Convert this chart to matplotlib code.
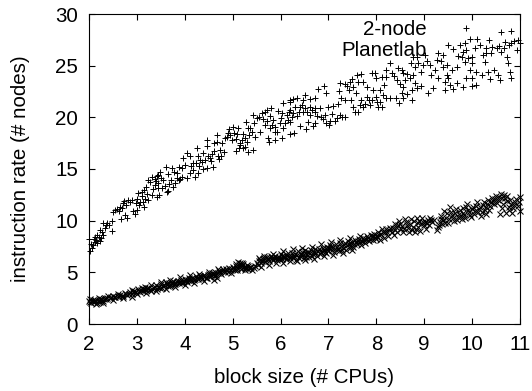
import numpy as np
import matplotlib
matplotlib.use("Agg")
import matplotlib.pyplot as plt

plt.rcParams['font.family'] = ['Liberation Sans', 'DejaVu Sans']

# (block size, instruction rate)
planetlab = np.array([
    (2.03,7.11),(2.06,7.33),(2.01,8.24),(2.09,7.66),(2.13,7.98),(2.16,7.82),(2.13,8.46),(2.17,8.63),
    (2.26,8.30),(2.30,8.63),(2.23,9.11),(2.33,9.27),(2.30,9.75),(2.37,9.75),(2.47,9.92),(2.49,9.04),
    (2.51,10.88),(2.54,11.04),(2.65,11.37),(2.68,11.21),(2.72,11.69),(2.82,12.01),(2.89,12.01),(2.67,10.14),
    (2.75,10.56),(2.79,10.24),(2.96,10.66),(2.995,11.04),(2.98,11.69),(3.07,11.85),(3.14,11.37),(3.12,11.85),
    (3.24,12.01),(3.03,12.66),(3.10,12.82),(3.20,13.30),(3.24,13.95),(3.31,14.27),(3.31,12.50),(3.41,12.27),
    (3.46,12.50),(3.38,13.46),(3.45,13.62),(3.52,13.14),(3.62,12.82),(3.66,12.91),(3.76,13.30),(3.80,13.62),
    (3.83,14.11),(3.87,13.95),(3.94,14.27),(4.04,14.17),(3.45,14.43),(3.48,14.75),(3.60,15.24),(3.73,15.08),
    (3.66,14.53),(3.83,14.59),(3.87,15.24),(3.94,15.08),(4.00,15.40),(3.97,16.04),(4.04,16.53),(4.11,16.21),
    (4.18,15.56),(4.18,14.91),(4.21,14.27),(4.28,14.66),(4.39,14.98),(4.46,15.08),(4.58,15.17),(4.25,17.01),
    (4.32,15.88),(4.28,16.21),(4.39,16.53),(4.49,16.21),(4.53,16.04),(4.46,17.82),(4.46,17.24),(4.60,17.50),
    (4.67,17.66),(4.68,18.30),(4.62,16.79),(4.74,16.85),(4.78,17.50),(4.81,16.69),(4.75,16.21),(4.72,15.95),
    (4.91,18.46),(4.94,18.30),(5.00,19.11),(5.12,18.95),(4.98,17.82),(5.08,17.88),(5.08,16.79),(5.15,17.33),
    (5.19,17.82),(5.26,17.17),(5.33,16.69),(5.43,16.85),(5.28,19.59),(5.31,18.95),(5.36,18.95),(5.26,17.98),
    (5.35,18.30),(5.47,18.14),(5.45,19.50),(5.43,20.24),(5.57,18.62),(5.54,20.08),(5.61,20.40),(5.68,20.56),
    (5.71,20.72),(5.81,20.88),(5.68,19.27),(5.77,18.95),(5.85,19.75),(5.88,19.11),(5.88,18.62),(5.74,17.98),
    (5.76,17.66),(5.88,17.82),(6.02,17.98),(6.06,21.43),(6.02,20.40),(6.13,20.24),(5.99,19.43),(6.06,18.95),
    (6.16,19.75),(6.20,21.53),(6.18,20.56),
    (6.20,21.68),(6.27,21.78),(6.34,21.84),(6.47,21.68),(6.51,22.17),(6.61,21.78),(6.72,21.84),(6.20,20.71),
    (6.30,21.04),(6.40,21.04),(6.51,20.88),(6.61,21.04),(6.72,20.88),(6.82,20.88),(6.23,20.07),(6.34,20.17),
    (6.47,20.55),(6.61,20.23),(6.72,20.55),(6.20,19.59),(6.40,19.17),(6.53,18.84),(6.58,19.59),(6.68,19.17),
    (6.72,19.42),(6.84,20.01),(6.93,20.23),(6.95,19.42),(7.04,19.68),(7.14,19.68),(7.07,20.33),(7.24,20.23),
    (7.34,20.07),(7.00,21.04),(7.10,21.10),(7.20,21.30),(6.20,18.39),(6.28,18.46),(6.79,22.75),(6.91,23.04),
    (6.95,22.33),(7.24,23.30),(7.23,22.59),(7.34,23.23),(7.45,23.46),(7.43,22.65),(7.52,22.97),(7.59,24.10),
    (7.69,24.20),(7.62,23.46),(7.73,23.46),(7.81,22.97),(7.90,24.26),(7.97,24.33),(8.00,23.78),(8.11,23.88),
    (7.27,21.84),(7.34,21.68),(7.48,21.68),(7.52,21.04),(7.55,20.55),(7.62,20.55),(7.69,21.68),(7.80,22.01),
    (7.87,21.20),(7.76,21.30),(7.90,21.68),(8.00,22.01),(8.04,21.04),(8.11,20.97),(8.07,22.65),(8.14,22.17),
    (8.21,21.84),(8.28,21.84),(8.20,24.59),(8.28,25.30),(8.21,23.88),(8.37,24.01),(8.44,23.62),(8.53,24.59),
    (8.46,24.75),(8.56,24.33),(8.60,23.62),(8.70,23.78),(8.56,22.97),(8.53,22.33),(8.42,21.84),(8.48,21.36),
    (8.56,21.84),(8.74,21.68),(8.63,22.26),(8.74,22.65),(8.84,22.81),(8.94,23.04),(9.08,22.39),(9.19,22.81),
    (8.77,24.10),(8.81,24.91),(8.72,25.23),(8.76,25.88),(8.84,25.81),(8.94,24.43),(8.98,25.07),(9.01,26.04),
    (9.12,25.07),(9.15,24.10),(9.29,23.78),(9.26,25.55),(9.29,26.20),(9.40,26.04),(9.47,25.07),(9.40,24.91),
    (9.47,24.10),(9.50,23.78),(9.54,23.13),(9.43,22.65),(9.61,22.71),(9.68,23.30),(9.50,27.01),(9.61,26.59),
    (9.75,27.01),(9.88,28.62),(9.85,27.17),(9.95,27.55),(10.11,27.55),(9.88,26.52),(9.78,25.88),(9.68,24.91),
    (9.85,25.39),(9.99,25.88),(9.99,25.23),(9.95,24.59),(10.08,24.43),(10.20,24.10),(10.34,24.43),(10.45,24.59),
    (10.37,23.68),(10.55,24.10),(10.58,23.62),(10.79,24.43),(10.82,23.78),(9.88,23.78),(9.99,23.78),(9.81,22.97),
    (9.99,23.04),(10.08,23.13),(10.16,27.01),(10.23,26.04),(10.36,27.49),(10.30,26.68),(10.41,26.78),(10.51,26.68),
    (10.61,28.30),(10.81,28.39),(10.61,26.36),(10.72,25.88),(10.75,25.23),(10.27,25.39),(10.30,26.20),(10.68,27.33),
    (10.82,27.23),(10.96,27.49),(10.94,26.52),(11.00,27.23),
])

# dodatkowe plusy w gestych skupiskach
planetlab_dense = np.array([
    (2.05,7.75),(2.10,8.20),(2.15,8.10),(2.20,8.45),(2.22,8.00),(2.28,8.90),(2.35,9.60),(2.42,9.55),
    (2.58,11.15),(2.62,10.90),(2.74,11.90),(2.77,11.50),(2.85,11.80),(2.92,10.90),(3.00,12.10),(3.05,11.55),
    (3.10,12.40),(3.15,13.00),(3.17,12.10),(3.22,12.55),(3.28,13.70),(3.34,13.10),(3.37,14.00),(3.40,13.80),
    (3.42,14.30),(3.44,13.20),(3.50,14.10),(3.55,13.90),(3.58,13.35),(3.68,13.55),(3.72,13.90),(3.78,14.70),
    (3.90,14.00),(4.10,14.60),(4.14,15.30),(4.24,15.60),(4.30,15.25),(4.36,15.70),(4.42,15.90),(4.55,15.80),
    (4.57,16.50),(4.70,16.30),(4.84,18.00),(4.88,18.10),(4.93,18.90),(5.03,18.50),(5.10,18.40),(5.14,17.05),
    (5.16,17.55),(5.21,17.05),(5.22,18.40),(5.30,17.60),(5.40,18.60),(5.50,19.90),(5.64,19.80),(5.72,19.60),
    (5.79,20.10),(5.83,19.30),(5.92,18.60),(5.95,20.60),(6.00,19.95),(6.10,19.50),(6.25,20.40),(6.38,20.50),
    (6.45,21.20),(6.55,20.50),(6.65,20.70),(6.76,20.10),(6.88,19.85),(7.02,19.30),(7.18,19.90),(7.28,20.00),
    (7.38,23.00),(7.50,23.70),(7.58,22.40),(7.66,21.20),(7.72,21.00),(7.84,21.70),(7.94,22.60),(8.02,21.50),
    (8.08,21.50),(8.16,23.10),(8.32,24.30),(8.50,23.20),(8.65,24.20),(8.80,23.30),(8.88,25.30),(9.05,25.50),
    (9.22,24.60),(9.35,25.50),(9.44,23.40),(9.58,24.60),(9.70,25.90),(9.80,26.30),(9.92,25.70),(10.05,26.70),
    (10.40,26.20),(10.56,26.90),(10.66,26.70),(10.78,27.00),(10.88,27.40),
])

two_node = np.array([
    (2.00,2.20),(2.02,2.40),(2.04,2.00),(2.07,2.25),(2.10,2.10),(2.13,2.35),(2.16,2.05),(2.20,2.30),
    (2.23,2.15),(2.26,2.45),(2.30,2.20),(2.33,2.55),(2.36,2.40),(2.40,2.70),(2.45,2.60),(2.50,2.75),
    (2.55,2.60),(2.60,2.70),(2.65,2.85),(2.70,2.75),(2.75,3.00),(2.80,2.80),(2.85,3.10),(2.90,2.90),
    (2.95,3.15),(3.00,2.95),(3.03,3.35),(3.06,3.10),(3.10,3.50),(3.13,3.20),(3.17,3.55),(3.20,3.30),
    (3.25,3.45),(3.30,3.20),(3.35,3.50),(3.40,3.75),(3.43,3.35),(3.47,3.60),(3.50,3.90),(3.53,3.50),
    (3.57,3.75),(3.60,4.05),(3.64,3.70),(3.68,4.00),(3.72,3.80),(3.76,4.15),(3.80,3.90),(3.84,4.10),
    (3.88,3.95),(3.92,4.30),(3.96,4.05),(4.00,4.35),(4.04,4.10),(4.08,4.45),(4.12,4.20),(4.16,4.50),
    (4.20,4.25),(4.24,4.60),(4.28,4.35),(4.32,4.60),(4.36,4.40),(4.40,4.75),(4.44,4.50),(4.48,4.70),
    (4.52,4.55),(4.56,4.95),(4.60,4.65),(4.64,5.05),(4.68,4.50),(4.72,5.15),(4.76,4.80),(4.80,5.30),
    (4.84,5.00),(4.88,5.20),(4.92,5.45),(4.96,4.95),(5.00,5.50),(5.04,5.20),(5.08,5.85),(5.10,5.45),
    (5.12,6.00),(5.15,5.65),(5.18,5.35),(5.20,5.90),(5.23,5.55),(5.26,5.20),(5.29,5.70),(5.33,5.30),
    (5.37,5.55),(5.41,5.25),(5.46,5.60),(5.52,5.75),(5.56,6.35),(5.60,5.90),(5.64,6.25),(5.68,6.00),
    (5.72,6.45),(5.76,6.10),(5.80,6.55),(5.84,6.20),(5.88,6.60),(5.92,6.15),(5.96,6.50),(6.00,6.75),
    (6.04,6.25),(6.08,6.60),(6.12,6.30),(6.16,6.85),(6.20,6.35),(6.24,6.90),(6.28,6.60),(6.32,6.20),
    (6.36,7.05),(6.40,6.55),(6.44,6.95),(6.48,6.40),(6.52,7.15),(6.56,6.75),(6.60,6.45),(6.64,7.20),
    (6.68,6.80),(6.72,7.25),(6.76,6.60),(6.80,7.30),(6.84,6.95),(6.88,7.40),(6.92,7.00),(6.96,7.45),
    (7.00,7.10),(7.04,7.65),(7.08,7.20),(7.12,7.00),(7.16,7.75),(7.20,7.30),(7.24,7.85),(7.28,7.15),
    (7.32,7.60),(7.36,7.20),(7.40,8.00),(7.44,7.40),(7.48,7.80),(7.52,7.50),(7.56,8.10),(7.60,7.70),
    (7.64,8.25),(7.68,7.65),(7.72,8.35),(7.76,7.85),(7.80,8.50),(7.84,8.00),(7.88,8.60),(7.92,8.10),
    (7.96,8.70),(8.00,8.20),(8.04,8.95),(8.08,8.15),(8.12,9.15),(8.16,8.35),(8.20,9.20),(8.24,8.55),
    (8.28,9.25),(8.32,8.90),(8.36,8.60),(8.40,9.10),(8.44,8.90),(8.48,9.95),(8.52,9.20),(8.56,8.90),
    (8.60,10.20),(8.64,9.55),(8.68,8.95),(8.72,10.15),(8.76,9.35),(8.80,8.95),(8.84,10.25),(8.88,9.75),
    (8.92,9.00),(8.96,10.30),(9.00,9.60),(9.04,9.15),(9.08,10.05),(9.12,10.25),(9.16,9.90),(9.20,10.10),
    (9.26,9.10),(9.30,9.55),(9.34,10.20),(9.38,9.65),(9.42,10.90),(9.46,10.30),(9.50,9.80),(9.54,11.30),
    (9.58,10.55),(9.62,10.00),(9.66,11.10),(9.70,10.35),(9.74,11.00),(9.78,10.15),(9.82,11.20),(9.86,10.30),
    (9.90,11.65),(9.94,10.80),(9.98,10.40),(10.02,11.35),(10.06,10.90),(10.10,11.80),(10.14,11.10),(10.18,10.50),
    (10.22,11.55),(10.26,11.00),(10.30,10.60),(10.34,12.00),(10.38,11.40),(10.42,12.20),(10.46,11.65),(10.50,12.35),
    (10.54,12.00),(10.58,10.60),(10.60,12.60),(10.63,11.20),(10.66,12.45),(10.70,10.75),(10.73,11.90),(10.77,11.30),
    (10.80,12.00),(10.84,10.75),(10.88,11.55),(10.92,12.10),(10.96,11.40),(11.00,12.30),(11.00,10.95),
])

# dodatkowe krzyzyki - pas jest prawie zamalowany
two_node_dense = np.array([
    (2.03,2.10),(2.08,2.35),(2.12,2.20),(2.18,2.20),(2.25,2.30),(2.31,2.40),(2.38,2.55),(2.43,2.50),
    (2.52,2.65),(2.62,2.60),(2.68,2.75),(2.78,2.95),(2.83,2.90),(2.92,3.05),(2.98,3.10),(3.04,3.20),
    (3.08,3.30),(3.15,3.40),(3.22,3.45),(3.27,3.30),(3.32,3.40),(3.37,3.60),(3.45,3.55),(3.49,3.45),
    (3.55,3.65),(3.62,3.85),(3.66,3.85),(3.70,3.70),(3.74,4.00),(3.78,3.85),(3.82,4.00),(3.86,4.15),
    (3.90,4.10),(3.94,4.00),(3.98,4.20),(4.02,4.25),(4.06,4.25),(4.10,4.30),(4.14,4.35),(4.18,4.40),
    (4.22,4.40),(4.26,4.45),(4.30,4.50),(4.34,4.55),(4.38,4.60),(4.42,4.60),(4.46,4.45),(4.50,4.85),
    (4.54,4.75),(4.58,4.80),(4.62,4.85),(4.66,4.75),(4.70,4.95),(4.74,4.95),(4.78,5.10),(4.82,5.15),
    (4.86,5.35),(4.90,5.05),(4.94,5.25),(4.98,5.35),(5.02,5.35),(5.06,5.60),(5.09,5.20),(5.13,5.75),
    (5.16,5.95),(5.19,5.60),(5.22,5.80),(5.25,5.45),(5.28,5.45),(5.31,5.60),(5.35,5.45),(5.39,5.50),
    (5.44,5.40),(5.50,5.95),(5.54,6.10),(5.58,6.15),(5.62,6.05),(5.66,6.40),(5.70,6.15),(5.74,6.30),
    (5.78,6.35),(5.82,6.40),(5.86,6.35),(5.90,6.40),(5.94,6.35),(5.98,6.30),(6.02,6.55),(6.06,6.45),
    (6.10,6.50),(6.14,6.60),(6.18,6.55),(6.22,6.55),(6.26,6.35),(6.30,6.80),(6.34,6.70),(6.38,6.35),
    (6.42,6.75),(6.46,6.65),(6.50,6.90),(6.54,6.50),(6.58,7.00),(6.62,6.85),(6.66,6.55),(6.70,7.00),
    (6.74,6.90),(6.78,7.05),(6.82,6.75),(6.86,7.10),(6.90,7.20),(6.94,6.85),(6.98,7.25),(7.02,7.40),
    (7.06,7.45),(7.10,7.50),(7.14,7.30),(7.18,7.50),(7.22,7.10),(7.26,7.55),(7.30,7.35),(7.34,7.85),
    (7.38,7.60),(7.42,7.70),(7.46,7.55),(7.50,7.95),(7.54,7.70),(7.58,7.90),(7.62,8.00),(7.66,7.90),
    (7.70,8.05),(7.74,8.15),(7.78,8.20),(7.82,8.30),(7.86,8.20),(7.90,8.40),(7.94,8.50),(7.98,8.45),
    (8.02,8.50),(8.06,8.60),(8.10,8.75),(8.14,8.90),(8.18,8.95),(8.22,8.90),(8.26,9.05),(8.34,9.30),
    (8.38,9.70),(8.42,9.40),(8.46,9.55),(8.50,9.70),(8.54,9.45),(8.58,9.20),(8.62,9.90),(8.66,9.25),
    (8.70,9.70),(8.74,9.05),(8.78,10.00),(8.82,9.15),(8.86,9.35),(8.90,9.95),(8.94,9.65),(8.98,9.90),
    (9.02,9.85),(9.06,9.75),(9.10,9.55),(9.14,10.05),(9.28,9.35),(9.32,9.85),(9.36,10.50),(9.40,10.05),
    (9.44,9.75),(9.48,10.75),(9.52,10.15),(9.56,10.85),(9.60,10.25),(9.64,10.70),(9.68,10.05),(9.72,10.60),
    (9.76,10.45),(9.80,10.75),(9.84,10.55),(9.88,11.35),(9.92,11.00),(9.96,10.55),(10.00,11.10),(10.04,10.65),
    (10.08,11.45),(10.12,10.80),(10.16,11.30),(10.20,10.85),(10.24,11.85),(10.28,11.30),(10.32,11.65),(10.36,11.05),
    (10.40,11.80),(10.44,11.95),(10.48,12.05),(10.52,11.75),(10.56,12.30),(10.62,12.20),(10.64,11.60),(10.68,12.15),
    (10.72,12.35),(10.76,11.05),(10.82,11.65),(10.86,11.20),(10.90,11.85),(10.98,11.85),
])

# brzegi pasa
two_node_edges = np.array([
    (2.15,1.90),(2.30,2.00),(2.50,2.35),(2.70,2.50),(2.90,2.65),(2.20,2.55),(2.60,2.95),(2.90,3.30),
    (3.20,3.00),(3.40,3.15),(3.60,3.40),(3.80,3.60),(4.00,3.80),(4.20,4.00),(4.40,4.20),(4.60,4.30),
    (3.30,3.75),(3.50,4.05),(3.70,4.30),(3.90,4.55),(4.10,4.70),(4.30,4.85),(4.50,5.05),(4.70,5.35),
    (5.60,5.55),(5.75,5.75),(5.90,5.90),(6.05,5.95),(6.20,6.05),(6.35,6.05),(6.50,6.15),(6.70,6.30),
    (6.90,6.55),(7.10,6.70),(7.30,6.90),(7.50,7.20),(5.65,6.55),(5.85,6.80),(6.05,7.05),(6.25,7.25),
    (6.45,7.35),(6.65,7.50),(6.85,7.70),(7.05,7.95),(7.25,8.10),(7.45,8.30),(7.65,8.55),
])

x_ticks = [2, 3, 4, 5, 6, 7, 8, 9, 10, 11]
y_ticks = [0, 5, 10, 15, 20, 25, 30]

fig = plt.figure(figsize=(5.32, 3.91), dpi=100)
ax = fig.add_axes([89/532, 1 - 324/391, 431/532, 310/391])

for pts in (planetlab, planetlab_dense):
    ax.plot(pts[:, 0], pts[:, 1], '+', color='black', markersize=4.5, markeredgewidth=0.7, clip_on=False)
for pts in (two_node, two_node_dense, two_node_edges):
    ax.plot(pts[:, 0], pts[:, 1], 'x', color='black', markersize=4.2, markeredgewidth=0.75, clip_on=False)

ax.set_xlim(2, 11)
ax.set_ylim(0, 30)
ax.set_xticks(x_ticks)
ax.set_yticks(y_ticks)
ax.tick_params(direction='in', top=True, right=True, length=4, width=0.8, labelsize=14.8, pad=8)
ax.tick_params(axis='x', pad=8)
ax.set_xlabel("block size (# CPUs)", fontsize=14.8, labelpad=10)
ax.set_ylabel("instruction rate (# nodes)", fontsize=14.8, labelpad=18)

ax.text(9.06, 28.5, "2-node", fontsize=14.8, ha='right', va='center')
ax.text(9.06, 26.5, "Planetlab", fontsize=14.8, ha='right', va='center')

fig.savefig("out.png", dpi=100)
